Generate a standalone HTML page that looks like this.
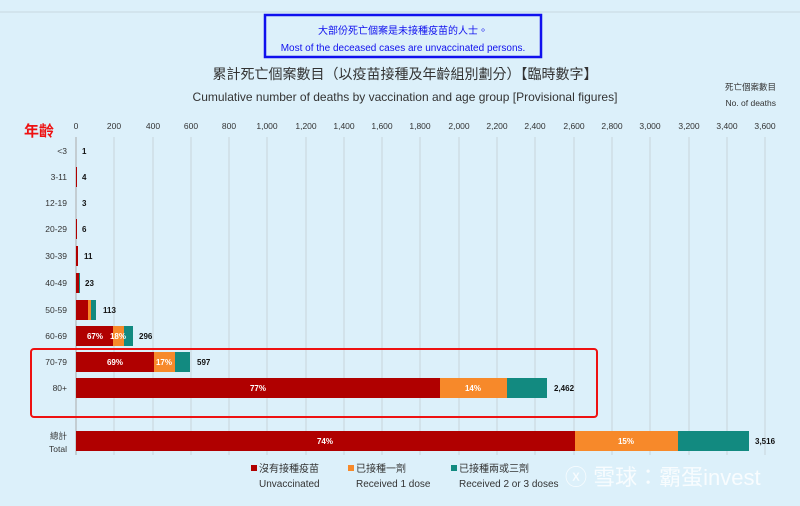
<!DOCTYPE html>
<html><head><meta charset="utf-8"><style>
body{margin:0;width:800px;height:501px;background:#dcf0fa;overflow:hidden;font-family:"Liberation Sans","Noto Sans CJK TC",sans-serif;}
</style></head><body>
<svg width="800" height="501" xmlns="http://www.w3.org/2000/svg" font-family="Liberation Sans, Noto Sans CJK TC, sans-serif">
<rect x="0" y="0" width="800" height="501" fill="#dcf0fa"/>
<line x1="0" y1="12" x2="800" y2="12" stroke="#c8d8e0"/>
<rect x="265" y="15" width="276" height="42" fill="none" stroke="#1010ee" stroke-width="2.5"/>
<text x="403" y="34" font-size="10" fill="#1010ee" text-anchor="middle">大部份死亡個案是未接種疫苗的人士。</text>
<text x="403" y="51" font-size="10" fill="#1010ee" text-anchor="middle">Most of the deceased cases are unvaccinated persons.</text>
<text x="405" y="79" font-size="14" fill="#333" text-anchor="middle">累計死亡個案數目（以疫苗接種及年齡組別劃分）【臨時數字】</text>
<text x="405" y="101" font-size="12" fill="#333" text-anchor="middle">Cumulative number of deaths by vaccination and age group [Provisional figures]</text>
<text x="776" y="90" font-size="8.5" fill="#333" text-anchor="end">死亡個案數目</text>
<text x="776" y="106" font-size="8.5" fill="#333" text-anchor="end">No. of deaths</text>
<text x="24" y="136" font-size="15" font-weight="bold" fill="#ee1111">年齡</text>
<g font-size="8.5" fill="#333" text-anchor="middle">
<text x="76" y="129">0</text><text x="114" y="129">200</text><text x="153" y="129">400</text><text x="191" y="129">600</text><text x="229" y="129">800</text><text x="267" y="129">1,000</text><text x="306" y="129">1,200</text><text x="344" y="129">1,400</text><text x="382" y="129">1,600</text><text x="420" y="129">1,800</text><text x="459" y="129">2,000</text><text x="497" y="129">2,200</text><text x="535" y="129">2,400</text><text x="574" y="129">2,600</text><text x="612" y="129">2,800</text><text x="650" y="129">3,000</text><text x="689" y="129">3,200</text><text x="727" y="129">3,400</text><text x="765" y="129">3,600</text>
</g>
<g stroke="#c8d4da" stroke-width="1">
<line x1="114" y1="137" x2="114" y2="455"/><line x1="153" y1="137" x2="153" y2="455"/><line x1="191" y1="137" x2="191" y2="455"/><line x1="229" y1="137" x2="229" y2="455"/><line x1="267" y1="137" x2="267" y2="455"/><line x1="306" y1="137" x2="306" y2="455"/><line x1="344" y1="137" x2="344" y2="455"/><line x1="382" y1="137" x2="382" y2="455"/><line x1="420" y1="137" x2="420" y2="455"/><line x1="459" y1="137" x2="459" y2="455"/><line x1="497" y1="137" x2="497" y2="455"/><line x1="535" y1="137" x2="535" y2="455"/><line x1="574" y1="137" x2="574" y2="455"/><line x1="612" y1="137" x2="612" y2="455"/><line x1="650" y1="137" x2="650" y2="455"/><line x1="689" y1="137" x2="689" y2="455"/><line x1="727" y1="137" x2="727" y2="455"/><line x1="765" y1="137" x2="765" y2="455"/>
</g>
<line x1="76" y1="137" x2="76" y2="455" stroke="#aaa"/>
<g font-size="8.5" fill="#333" text-anchor="end">
<text x="67" y="154">&lt;3</text><text x="67" y="180">3-11</text><text x="67" y="206">12-19</text><text x="67" y="232">20-29</text><text x="67" y="259">30-39</text><text x="67" y="286">40-49</text><text x="67" y="313">50-59</text><text x="67" y="339">60-69</text><text x="67" y="365">70-79</text><text x="67" y="391">80+</text>
<text x="67" y="439">總計</text><text x="67" y="452">Total</text>
</g>
<g>
<rect x="76" y="167" width="1" height="20" fill="#b00000"/>
<rect x="76" y="219" width="1" height="20" fill="#b00000"/>
<rect x="76" y="246" width="2" height="20" fill="#b00000"/>
<rect x="76" y="273" width="3" height="20" fill="#b00000"/><rect x="79" y="273" width="1" height="20" fill="#128a80"/>
<rect x="76" y="300" width="12" height="20" fill="#b00000"/><rect x="88" y="300" width="3" height="20" fill="#f7892a"/><rect x="91" y="300" width="5" height="20" fill="#128a80"/>
<rect x="76" y="326" width="37" height="20" fill="#b00000"/><rect x="113" y="326" width="11" height="20" fill="#f7892a"/><rect x="124" y="326" width="9" height="20" fill="#128a80"/>
<rect x="76" y="352" width="78" height="20" fill="#b00000"/><rect x="154" y="352" width="21" height="20" fill="#f7892a"/><rect x="175" y="352" width="15" height="20" fill="#128a80"/>
<rect x="76" y="378" width="364" height="20" fill="#b00000"/><rect x="440" y="378" width="67" height="20" fill="#f7892a"/><rect x="507" y="378" width="40" height="20" fill="#128a80"/>
<rect x="76" y="431" width="499" height="20" fill="#b00000"/><rect x="575" y="431" width="103" height="20" fill="#f7892a"/><rect x="678" y="431" width="71" height="20" fill="#128a80"/>
</g>
<g font-size="8" font-weight="bold" fill="#fff" text-anchor="middle">
<text x="95" y="339">67%</text><text x="118" y="339">18%</text><text x="115" y="365">69%</text><text x="164" y="365">17%</text><text x="258" y="391">77%</text><text x="473" y="391">14%</text><text x="325" y="444">74%</text><text x="626" y="444">15%</text>
</g>
<g font-size="8" font-weight="bold" fill="#111">
<text x="82" y="154">1</text><text x="82" y="180">4</text><text x="82" y="206">3</text><text x="82" y="232">6</text><text x="84" y="259">11</text><text x="85" y="286">23</text><text x="103" y="313">113</text><text x="139" y="339">296</text><text x="197" y="365">597</text><text x="554" y="391">2,462</text><text x="755" y="444">3,516</text>
</g>
<rect x="31" y="349" width="566" height="68" rx="3" fill="none" stroke="#ee1111" stroke-width="2"/>
<g font-size="10" fill="#333">
<rect x="251" y="465" width="6" height="6" fill="#b00000"/><text x="259" y="472">沒有接種疫苗</text><text x="259" y="487">Unvaccinated</text>
<rect x="348" y="465" width="6" height="6" fill="#f7892a"/><text x="356" y="472">已接種一劑</text><text x="356" y="487">Received 1 dose</text>
<rect x="451" y="465" width="6" height="6" fill="#128a80"/><text x="459" y="472">已接種兩或三劑</text><text x="459" y="487">Received 2 or 3 doses</text>
</g>
<text x="565" y="485" font-size="22" fill="#ffffff" opacity="0.8">ⓧ 雪球：霸蛋invest</text>
</svg>
</body></html>
